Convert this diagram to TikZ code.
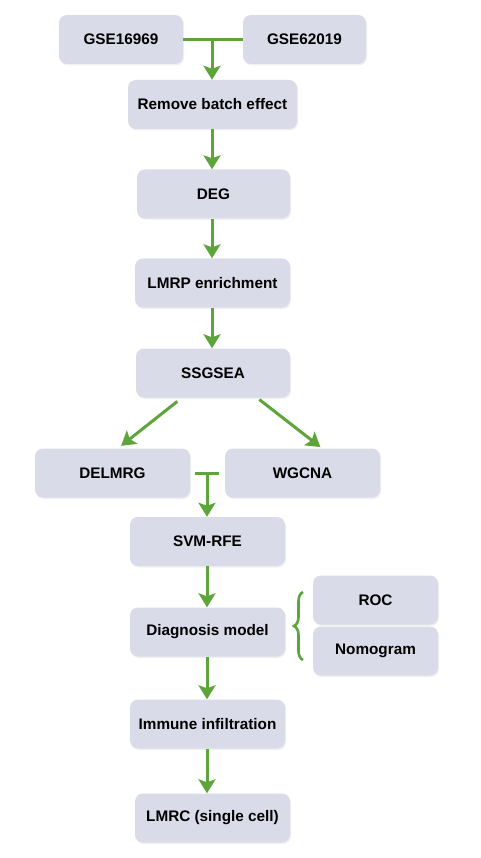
\documentclass[tikz,border=0pt]{standalone}
\usepackage{fontspec}
\setmainfont{Liberation Sans}
\usepackage{tikz}
\usetikzlibrary{arrows.meta, positioning, shadows, decorations.pathreplacing}
\definecolor{boxfill}{HTML}{D9DBE9}
\definecolor{flowgreen}{HTML}{5DA43B}
\tikzset{%
	every step/.style={
		rectangle,
		rounded corners=8pt,
		fill=boxfill,
		draw=none,
		minimum height=49pt,
		font=\fontsize{15.3}{18}\selectfont\bfseries,
		drop shadow={opacity=0.12, shadow xshift=1pt, shadow yshift=-1.5pt}
	},
	link/.style={
		draw=flowgreen,
		line width=3pt
	},
	flow/.style={
		link,
		-{Stealth[length=14pt, width=17pt, inset=3pt]}
	},
}

\begin{document}
\begin{tikzpicture}[x=1pt, y=-1pt]
			\useasboundingbox (0,0) rectangle (480,858);
			
			% Input data sets
			\node[every step, minimum width=124pt] (gsea) at (121,39.5) {GSE16969};
			\node[every step, minimum width=123pt] (gseb) at (304.5,39.5) {GSE62019};
			\node[every step, minimum width=169pt] (batch) at (212.5,104.5) {Remove batch effect};
			\coordinate (join) at (212,39.5);
			\draw[link] (gsea.east) -- (gseb.west);
			\draw[flow] (join) -- (join |- batch.north);
			
			% Main chain
			\node[every step, minimum width=153pt] (deg) at (213.5,194) {DEG};
			\node[every step, minimum width=155pt] (lmrp) at (212.5,283) {LMRP enrichment};
			\node[every step, minimum width=154pt] (ssgsea) at (213,373) {SSGSEA};
			\draw[flow] (join |- batch.south) -- (join |- deg.north);
			\draw[flow] (join |- deg.south) -- (join |- lmrp.north);
			\draw[flow] (join |- lmrp.south) -- (join |- ssgsea.north);
			
			% Split
			\node[every step, minimum width=155pt] (delmrg) at (112.5,473) {DELMRG};
			\node[every step, minimum width=155pt] (wgcna) at (302.5,473) {WGCNA};
			\draw[flow, shorten <=6pt, shorten >=4pt] ([xshift=-31pt]ssgsea.south) -- ([xshift=5.5pt]delmrg.north);
			\draw[flow, shorten <=3pt, shorten >=2pt] ([xshift=44pt]ssgsea.south) -- ([xshift=19.5pt]wgcna.north);
			
			% Merge
			\node[every step, minimum width=155pt] (svm) at (207.5,541.5) {SVM-RFE};
			\coordinate (merge) at (207,473);
			\draw[link] ([xshift=5pt]delmrg.east) -- ([xshift=-6pt]wgcna.west);
			\draw[flow] (merge) -- (merge |- svm.north);
			
			% Model
			\node[every step, minimum width=155pt] (model) at (207.5,632) {Diagnosis model};
			\node[every step, minimum width=125pt] (roc) at (375.5,600) {ROC};
			\node[every step, minimum width=125pt] (nomo) at (375.5,651) {Nomogram};
			\draw[flow] (merge |- svm.south) -- (merge |- model.north);
			\draw[link, line width=2.6pt, decorate, decoration={brace, amplitude=9pt}] (303,660) -- (303,592);
			
			% Downstream
			\node[every step, minimum width=155pt] (immune) at (207.5,724) {Immune infiltration};
			\node[every step, minimum width=155pt] (lmrc) at (212.5,818) {LMRC (single cell)};
			\draw[flow] (merge |- model.south) -- (merge |- immune.north);
			\draw[flow] (merge |- immune.south) -- (merge |- lmrc.north);
			
		\end{tikzpicture}
\end{document}
